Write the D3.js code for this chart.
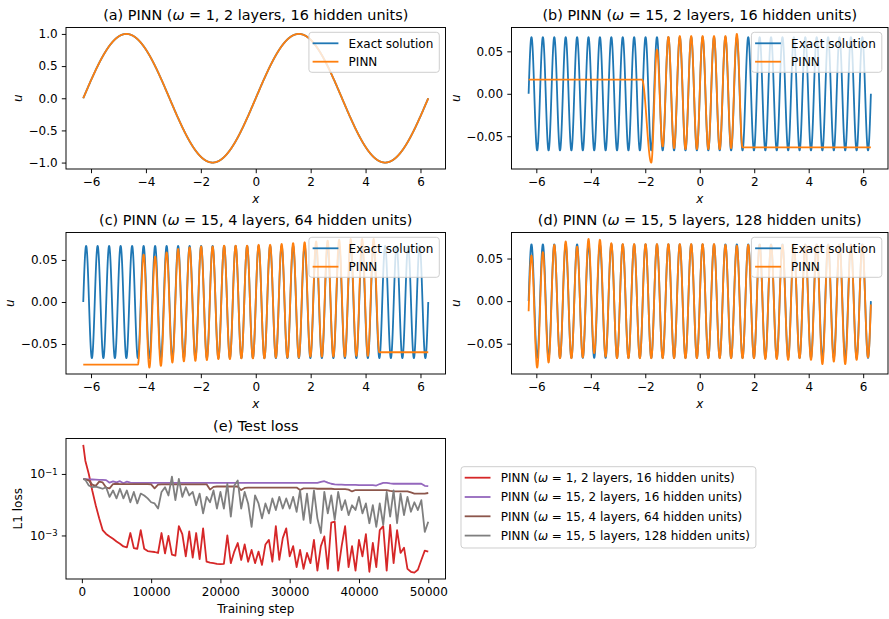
<!DOCTYPE html>
<html>
<head>
<meta charset="utf-8">
<script src="https://cdn.jsdelivr.net/npm/d3@7"></script>
<style>
  body { margin: 0; background: #fff; }
  text { font-family: "DejaVu Sans", sans-serif; }
</style>
</head>
<body>
<script>
// ---- data -------------------------------------------------------------
var xMin = -2 * Math.PI, xMax = 2 * Math.PI;
var panelLetters = ["a", "b", "c", "d"];
var omegas = [1, 15, 15, 15];
var layers = [2, 2, 4, 5];
var hiddenUnits = [16, 16, 64, 128];

// PINN value read at each extremum of the exact solution, starting at extremum index pinnFirst
var pinnFirst = [0, 21, 9, 0];
var pinnA = [1.0, -1.0, 1.0, -1.0];
var pinnB = [-0.081, 0.052, -0.062, 0.067, -0.064, 0.068, -0.065, 0.068, -0.065,
  0.068, -0.065, 0.068, -0.065, 0.068, -0.064, 0.0705, -0.0632];
var pinnC = [-0.0744, 0.0563, -0.078, 0.054, -0.076, 0.059, -0.072, 0.063, -0.0706, 0.065,
  -0.070, 0.066, -0.069, 0.066, -0.068, 0.067, -0.068, 0.067, -0.067, 0.067,
  -0.067, 0.068, -0.067, 0.068, -0.066, 0.069, -0.066, 0.070, -0.066, 0.071,
  -0.065, 0.072, -0.065, 0.073, -0.065, 0.074, -0.065, 0.075, -0.064, 0.075,
  -0.064, 0.075, -0.0598];
var pinnD = [0.0535, -0.078, 0.0575, -0.072, 0.066, -0.067, 0.070, -0.067, 0.064, -0.066,
  0.073, -0.061, 0.072, -0.065, 0.068, -0.067, 0.067, -0.067, 0.067, -0.067,
  0.067, -0.067, 0.067, -0.067, 0.067, -0.067, 0.067, -0.067, 0.067, -0.067,
  0.067, -0.067, 0.067, -0.067, 0.066, -0.067, 0.065, -0.067, 0.066, -0.067,
  0.066, -0.068, 0.066, -0.068, 0.066, -0.069, 0.066, -0.067, 0.066, -0.069,
  0.066, -0.074, 0.066, -0.071, 0.066, -0.074, 0.066, -0.069, 0.066, -0.066];
var pinnExtrema = [pinnA, pinnB, pinnC, pinnD];
// [value at the domain edge, x where a plateau ends / starts (null = none)]
var pinnLeft = [[0, null], [0.0167, -2.12], [-0.0744, null], [-0.012, null]];
var pinnRight = [[0, null], [-0.0632, null], [-0.0598, null], [-0.004, null]];

var xTicks = [-6, -4, -2, 0, 2, 4, 6];
var yTicksA = [-1.0, -0.5, 0.0, 0.5, 1.0];
var yTicksB = [-0.05, 0.0, 0.05];

// test loss
var lossSteps = [200].concat(d3.range(500, 50001, 500));
var lossRed = [0.88, 0.27, 0.10, 0.029, 0.0096, 0.0036, 0.0015, 0.00112, 0.00093, 0.00078,
  0.00064, 0.00054, 0.00044, 0.00041, 0.0012, 0.00039, 0.00037, 0.0015, 0.00037, 0.00031,
  0.00030, 0.00029, 0.00027, 0.0012, 0.00026, 0.00097, 0.00024, 0.00022, 0.0020, 0.0011,
  0.00021, 0.00135, 0.00019, 0.0012, 0.00017, 0.0017, 0.00014, 0.00013, 0.000126, 0.00012,
  0.000117, 0.00012, 0.0010, 0.000126, 0.0003, 0.00057, 0.00016, 0.00051, 0.00014, 0.00034,
  0.000126, 0.0003, 0.00011, 0.00051, 0.00072, 0.00014, 0.0020, 0.00016, 0.00082, 0.0017,
  0.00021, 0.00045, 0.000094, 0.00034, 0.000082, 0.00027, 0.000126, 0.00072, 0.000072, 0.00045,
  0.00093, 0.000082, 0.0026, 0.0028, 0.000072, 0.00045, 0.0020, 0.000094, 0.00045, 0.000072,
  0.00072, 0.00021, 0.0011, 0.000066, 0.00057, 0.000094, 0.0015, 0.0020, 0.000072, 0.0022,
  0.000126, 0.0015, 0.00027, 0.0004, 0.000082, 0.000066, 0.000062, 0.000077, 0.00016, 0.00032, 0.0003];
var lossPurple = [0.068, 0.068, 0.067, 0.066, 0.065, 0.064, 0.064, 0.063, 0.052, 0.057,
  0.053, 0.058, 0.050, 0.056, 0.052, 0.051, 0.051, 0.051, 0.051, 0.051,
  0.051, 0.051, 0.051, 0.051, 0.051, 0.051, 0.051, 0.051, 0.051, 0.051,
  0.051, 0.051, 0.051, 0.051, 0.051, 0.051, 0.051, 0.051, 0.051, 0.051,
  0.051, 0.051, 0.051, 0.051, 0.051, 0.051, 0.051, 0.051, 0.051, 0.051,
  0.051, 0.051, 0.051, 0.051, 0.051, 0.051, 0.051, 0.051, 0.051, 0.051,
  0.051, 0.051, 0.051, 0.051, 0.051, 0.051, 0.051, 0.051, 0.051, 0.055,
  0.058, 0.052, 0.048, 0.046, 0.045, 0.045, 0.044, 0.044, 0.044, 0.044,
  0.043, 0.043, 0.043, 0.043, 0.043, 0.042, 0.047, 0.051, 0.051, 0.049,
  0.048, 0.048, 0.048, 0.048, 0.048, 0.048, 0.048, 0.048, 0.048, 0.041, 0.040];
var lossBrown = [0.068, 0.067, 0.062, 0.045, 0.041, 0.056, 0.053, 0.036, 0.034, 0.047,
  0.048, 0.047, 0.047, 0.047, 0.047, 0.047, 0.047, 0.047, 0.047, 0.047,
  0.046, 0.034, 0.045, 0.046, 0.046, 0.046, 0.046, 0.046, 0.046, 0.046,
  0.046, 0.046, 0.046, 0.046, 0.046, 0.046, 0.046, 0.031, 0.038, 0.039,
  0.039, 0.039, 0.039, 0.039, 0.039, 0.039, 0.030, 0.035, 0.036, 0.036,
  0.036, 0.036, 0.036, 0.036, 0.036, 0.036, 0.036, 0.036, 0.036, 0.036,
  0.036, 0.036, 0.036, 0.030, 0.034, 0.034, 0.034, 0.034, 0.033, 0.033,
  0.033, 0.033, 0.033, 0.032, 0.032, 0.032, 0.032, 0.031, 0.027, 0.030,
  0.030, 0.030, 0.030, 0.030, 0.030, 0.030, 0.030, 0.030, 0.030, 0.028,
  0.027, 0.027, 0.027, 0.027, 0.027, 0.025, 0.023, 0.023, 0.023, 0.023, 0.024];
var lossGray = [0.069, 0.064, 0.042, 0.037, 0.039, 0.036, 0.033, 0.037, 0.018, 0.029,
  0.016, 0.033, 0.016, 0.029, 0.012, 0.026, 0.011, 0.023, 0.020, 0.016,
  0.012, 0.011, 0.0075, 0.026, 0.037, 0.020, 0.082, 0.014, 0.069, 0.018,
  0.037, 0.020, 0.026, 0.0096, 0.023, 0.0052, 0.018, 0.012, 0.029, 0.0075,
  0.026, 0.0075, 0.048, 0.0041, 0.042, 0.061, 0.0075, 0.026, 0.011, 0.0019,
  0.020, 0.011, 0.0036, 0.011, 0.0052, 0.016, 0.0067, 0.018, 0.0075, 0.016,
  0.0075, 0.018, 0.0059, 0.029, 0.0032, 0.023, 0.0025, 0.029, 0.0036, 0.0012,
  0.026, 0.0052, 0.020, 0.0032, 0.026, 0.0067, 0.014, 0.0046, 0.0096, 0.0067,
  0.018, 0.0052, 0.011, 0.0025, 0.0096, 0.0019, 0.011, 0.0022, 0.026, 0.0041,
  0.029, 0.0025, 0.023, 0.0046, 0.018, 0.0059, 0.012, 0.0067, 0.014, 0.0013, 0.0028];
var lossSeries = [lossRed, lossPurple, lossBrown, lossGray];
var lossColors = ["#d62728", "#9467bd", "#8c564b", "#7f7f7f"];
var lossXTicks = [0, 10000, 20000, 30000, 40000, 50000];
var lossYTicks = [1e-1, 1e-3];

// ---- layout -----------------------------------------------------------
var W = 889, H = 619;
var panels = [
  {l: 66, r: 445.5, t: 27.5, b: 169},
  {l: 511.5, r: 888, t: 27.5, b: 169},
  {l: 66, r: 445.5, t: 232.5, b: 374},
  {l: 511.5, r: 888, t: 232.5, b: 374}
];
var lossBox = {l: 66, r: 445.5, t: 438.5, b: 579};
var blue = "#1f77b4", orange = "#ff7f0e";

var svg = d3.select("body").append("svg")
  .attr("width", W).attr("height", H);

function exactU(w, x){ return Math.sin(w * x) / w; }

function exactPoints(w){
  return d3.range(0, 3001).map(function(j){
    var x = xMin + (xMax - xMin) * j / 3000;
    return [x, exactU(w, x)];
  });
}

function pinnPoints(i){
  var w = omegas[i], ext = pinnExtrema[i], k0 = pinnFirst[i];
  var left = pinnLeft[i], right = pinnRight[i];
  var half = Math.PI / w;
  var keys = [];
  keys.push({x: xMin, u: left[0], seg: left[1] == null ? "exact" : "flat"});
  if (left[1] != null) keys.push({x: left[1], u: left[0], seg: "cos"});
  ext.forEach(function(u, j){
    keys.push({x: xMin + (k0 + j + 0.5) * half, u: u, seg: "exact"});
  });
  if (right[1] != null){
    keys[keys.length - 1].seg = "cos";
    keys.push({x: right[1], u: right[0], seg: "flat"});
  }
  keys.push({x: xMax, u: right[0]});

  var pts = [];
  for (var j = 0; j < keys.length - 1; j++){
    var a = keys[j], b = keys[j + 1];
    var n = Math.max(4, Math.ceil((b.x - a.x) / 0.004));
    var sa = exactU(w, a.x), sb = exactU(w, b.x);
    for (var m = 0; m < n; m++){
      var t = m / n, x = a.x + (b.x - a.x) * t, u;
      if (a.seg === "flat" || a.u === b.u) u = a.u;
      else if (a.seg === "cos") u = a.u + (b.u - a.u) * (1 - Math.cos(Math.PI * t)) / 2;
      else u = a.u + (b.u - a.u) * (exactU(w, x) - sa) / (sb - sa);
      pts.push([x, u]);
    }
  }
  pts.push([xMax, right[0]]);
  return pts;
}

function padded(lo, hi){
  var m = (hi - lo) * 0.05;
  return [lo - m, hi + m];
}

function styleAxis(g){
  g.select(".domain").remove();
  g.selectAll(".tick line").attr("stroke", "#000").attr("stroke-width", 0.96);
  g.selectAll(".tick text").attr("fill", "#000")
    .style("font-family", "DejaVu Sans").style("font-size", "12px");
  g.attr("font-family", null).attr("font-size", null);
}

function frame(p){
  svg.append("rect")
    .attr("x", p.l).attr("y", p.t)
    .attr("width", p.r - p.l).attr("height", p.b - p.t)
    .attr("fill", "none").attr("stroke", "#000").attr("stroke-width", 0.96);
}

function mathTitle(sel, prefix, omega, rest){
  sel.append("tspan").text(prefix);
  sel.append("tspan").attr("font-style", "italic").text("\u03c9");
  sel.append("tspan").text(" = " + omega + rest);
}

function yLabel(p, g, gap, drawLabel){
  var minX = d3.min(g.selectAll(".tick text").nodes(), function(n){
    return n.getBBox().x;
  });
  drawLabel(p.l + minX - gap, (p.t + p.b) / 2);
}

function legend(x, y, rows, rowGap, height){
  var g = svg.append("g");
  var box = g.append("rect").attr("x", x).attr("y", y)
    .attr("rx", 2.9).attr("ry", 2.9).attr("height", height)
    .attr("fill", "#fff").attr("fill-opacity", 0.8)
    .attr("stroke", "#cccccc").attr("stroke-width", 0.96);
  var maxW = 0;
  rows.forEach(function(r, i){
    var cy = y + 11 + i * rowGap;
    g.append("line")
      .attr("x1", x + 4.6).attr("x2", x + 28.6)
      .attr("y1", cy).attr("y2", cy)
      .attr("stroke", r.color).attr("stroke-width", 1.8)
      .attr("stroke-linecap", "square");
    var t = g.append("text").attr("x", x + 39.7).attr("y", cy + 4.4)
      .style("font-size", "12px");
    r.label(t);
    maxW = Math.max(maxW, t.node().getComputedTextLength());
  });
  var width = 39.7 + maxW + 6;
  box.attr("width", width);
  return {g: g, width: width};
}

// ---- solution panels --------------------------------------------------
panels.forEach(function(p, i){
  var w = omegas[i];
  var exact = exactPoints(w);
  var pinn = pinnPoints(i);
  var allU = exact.concat(pinn).map(function(d){ return d[1]; });

  var x = d3.scaleLinear().domain(padded(xMin, xMax)).range([p.l, p.r]);
  var y = d3.scaleLinear().domain(padded(d3.min(allU), d3.max(allU))).range([p.b, p.t]);

  var clipId = "clip" + i;
  svg.append("clipPath").attr("id", clipId).append("rect")
    .attr("x", p.l).attr("y", p.t).attr("width", p.r - p.l).attr("height", p.b - p.t);

  var line = d3.line().x(function(d){ return x(d[0]); }).y(function(d){ return y(d[1]); });
  var plot = svg.append("g").attr("clip-path", "url(#" + clipId + ")");
  plot.append("path").attr("d", line(exact))
    .attr("fill", "none").attr("stroke", blue).attr("stroke-width", 1.8)
    .attr("stroke-linejoin", "round");
  plot.append("path").attr("d", line(pinn))
    .attr("fill", "none").attr("stroke", orange).attr("stroke-width", 1.8)
    .attr("stroke-linejoin", "round");

  var gx = svg.append("g").attr("transform", "translate(0," + p.b + ")")
    .call(d3.axisBottom(x).tickValues(xTicks).tickFormat(d3.format("d"))
      .tickSize(4.2).tickPadding(4.2));
  styleAxis(gx);

  var yt = i === 0 ? yTicksA : yTicksB;
  var gy = svg.append("g").attr("transform", "translate(" + p.l + ",0)")
    .call(d3.axisLeft(y).tickValues(yt).tickFormat(d3.format(i === 0 ? ".1f" : ".2f"))
      .tickSize(4.2).tickPadding(4.2));
  styleAxis(gy);

  frame(p);

  var title = svg.append("text")
    .attr("x", (p.l + p.r) / 2).attr("y", p.t - 8)
    .attr("text-anchor", "middle").style("font-size", "14.4px");
  mathTitle(title, "(" + panelLetters[i] + ") PINN (", w,
    ", " + layers[i] + " layers, " + hiddenUnits[i] + " hidden units)");

  svg.append("text")
    .attr("x", (p.l + p.r) / 2).attr("y", p.b + 33.5)
    .attr("text-anchor", "middle").attr("font-style", "italic")
    .style("font-size", "12px").text("x");

  yLabel(p, gy, 6.5, function(lx, ly){
    svg.append("text")
      .attr("transform", "translate(" + lx + "," + ly + ") rotate(-90)")
      .attr("text-anchor", "middle").attr("font-style", "italic")
      .style("font-size", "12px").text("u");
  });

  var lg = legend(0, p.t + 4.8, [
    {color: blue, label: function(t){ t.text("Exact solution"); }},
    {color: orange, label: function(t){ t.text("PINN"); }}
  ], 18.4, 40);
  lg.g.attr("transform", "translate(" + (p.r - 6.2 - lg.width) + ",0)");
});

// ---- test loss --------------------------------------------------------
(function(){
  var p = lossBox;
  var allV = [].concat.apply([], lossSeries);
  var lo = Math.log10(d3.min(allV)), hi = Math.log10(d3.max(allV));
  var pad = (hi - lo) * 0.05;
  var x = d3.scaleLinear().domain(padded(d3.min(lossSteps), d3.max(lossSteps))).range([p.l, p.r]);
  var y = d3.scaleLog().domain([Math.pow(10, lo - pad), Math.pow(10, hi + pad)]).range([p.b, p.t]);

  svg.append("clipPath").attr("id", "clipLoss").append("rect")
    .attr("x", p.l).attr("y", p.t).attr("width", p.r - p.l).attr("height", p.b - p.t);
  var plot = svg.append("g").attr("clip-path", "url(#clipLoss)");
  var line = d3.line()
    .x(function(d, j){ return x(lossSteps[j]); })
    .y(function(d){ return y(d); });
  lossSeries.forEach(function(s, k){
    plot.append("path").attr("d", line(s))
      .attr("fill", "none").attr("stroke", lossColors[k]).attr("stroke-width", 1.8)
      .attr("stroke-linejoin", "round");
  });

  var gx = svg.append("g").attr("transform", "translate(0," + p.b + ")")
    .call(d3.axisBottom(x).tickValues(lossXTicks).tickFormat(d3.format("d"))
      .tickSize(4.2).tickPadding(4.2));
  styleAxis(gx);

  var gy = svg.append("g").attr("transform", "translate(" + p.l + ",0)")
    .call(d3.axisLeft(y).tickValues(lossYTicks).tickFormat(function(){ return ""; })
      .tickSize(4.2).tickPadding(4.2));
  styleAxis(gy);
  gy.selectAll(".tick text").each(function(d){
    var t = d3.select(this);
    t.text(null);
    t.append("tspan").text("10");
    t.append("tspan").attr("dy", "-0.42em").style("font-size", "8.4px")
      .text("\u2212" + Math.round(-Math.log10(d)));
  });

  frame(p);

  svg.append("text")
    .attr("x", (p.l + p.r) / 2).attr("y", p.t - 8)
    .attr("text-anchor", "middle").style("font-size", "14.4px")
    .text("(e) Test loss");

  svg.append("text")
    .attr("x", (p.l + p.r) / 2).attr("y", p.b + 33.5)
    .attr("text-anchor", "middle").style("font-size", "12px")
    .text("Training step");

  yLabel(p, gy, 8, function(lx, ly){
    svg.append("text")
      .attr("transform", "translate(" + lx + "," + ly + ") rotate(-90)")
      .attr("text-anchor", "middle")
      .style("font-size", "12px").text("L1 loss");
  });

  var rows = lossColors.map(function(c, k){
    return {color: c, label: function(t){
      mathTitle(t, "PINN (", omegas[k],
        ", " + layers[k] + " layers, " + hiddenUnits[k] + " hidden units)");
    }};
  });
  legend(p.r + 15.5, 466.7, rows, 19.3, 81.3);
})();
</script>
</body>
</html>
